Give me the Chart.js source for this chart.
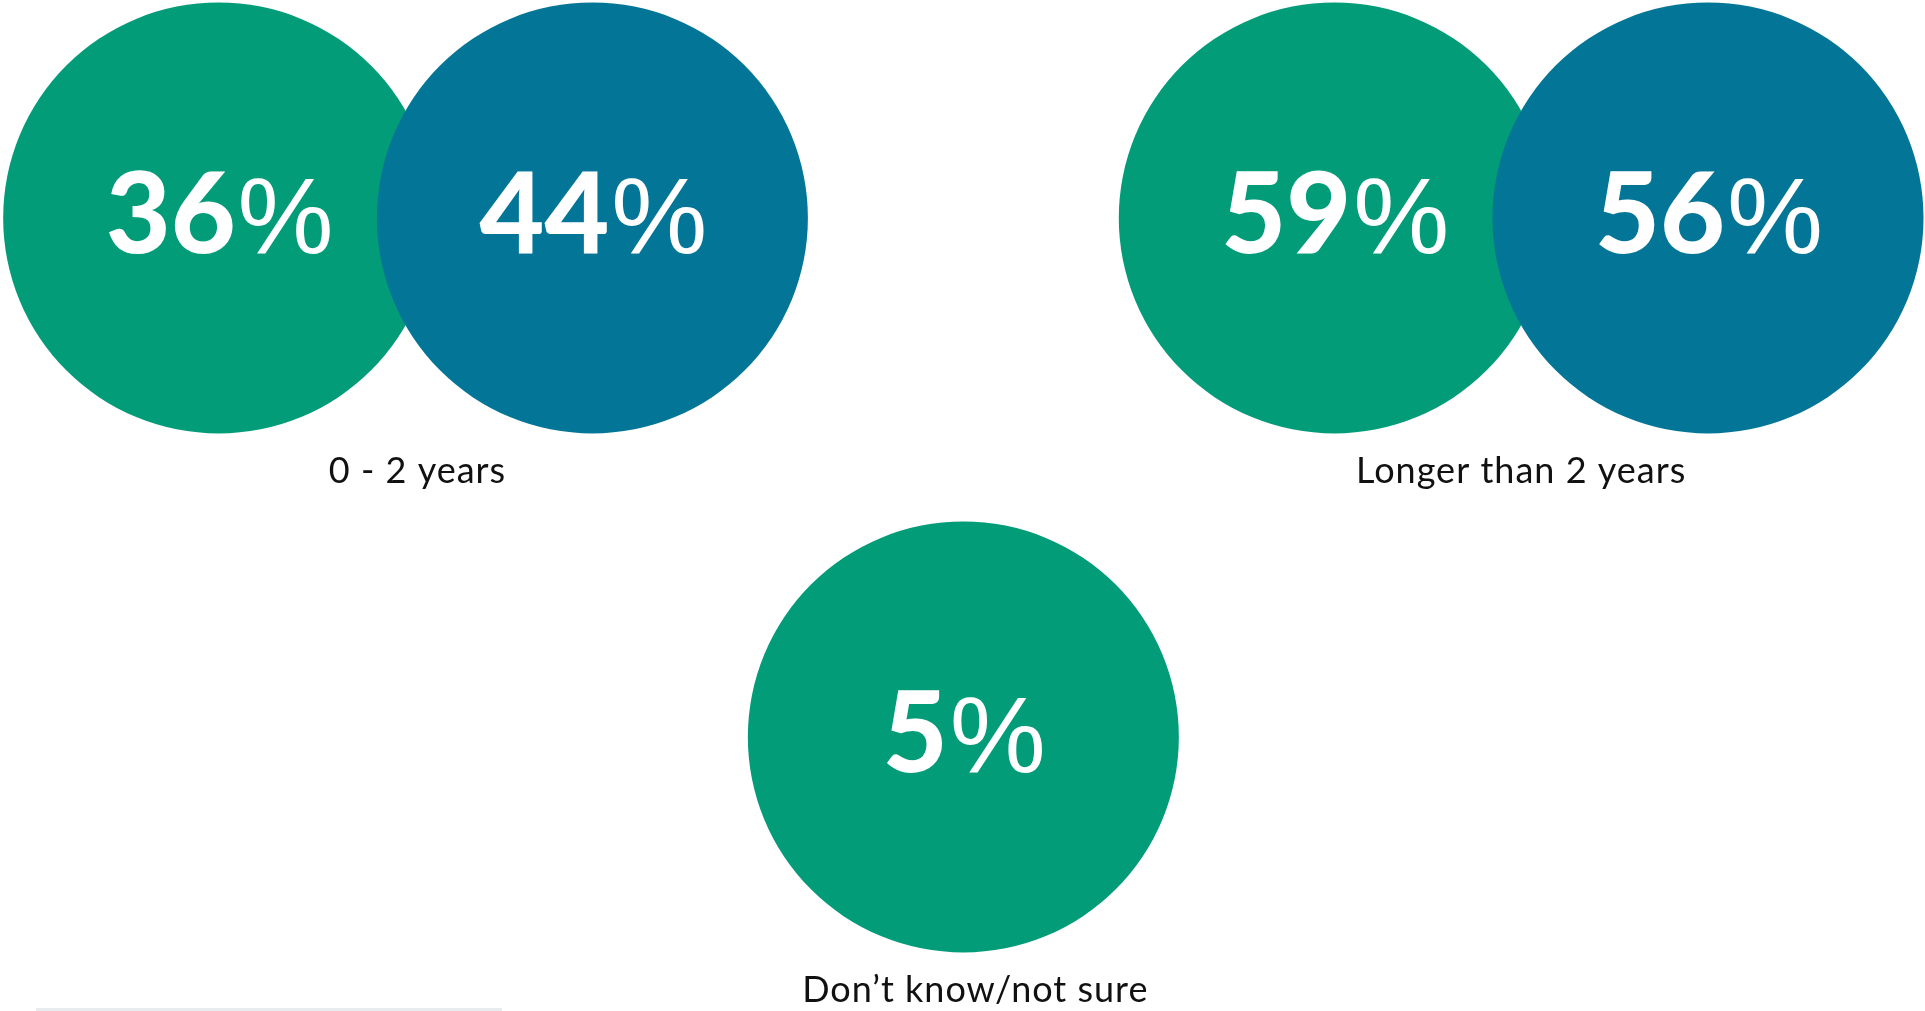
<!DOCTYPE html>
<html>
<head>
<meta charset="utf-8">
<title>Time frame</title>
<script src="https://cdn.jsdelivr.net/npm/chart.js@4.4.0/dist/chart.umd.min.js"></script>
<style>
  html, body { margin: 0; padding: 0; background: #fff; overflow: hidden; }
  #wrap { position: relative; width: 1925px; height: 1011px; }
  #rule { position: absolute; left: 36px; top: 1008px; width: 466px; height: 3px; background: #e9ecef; }
</style>
</head>
<body>
<div id="wrap">
  <canvas id="timeFrame" width="1925" height="1011"></canvas>
  <div id="rule"></div>
</div>
<script>
const categories = ["0 - 2 years", "Longer than 2 years", "Don’t know/not sure"];
const greenValues = [36, 59, 5];
const blueValues = [44, 56, null];

// where each group sits: column and row on the hidden scales
const groupCol = [0, 2, 1];
const groupRow = [0, 0, 1];
const pairOffset = 0.335;
const bubbleRadius = 215.5;
const labelNudge = [12, 0, 12];

const GREEN = "#029c79";
const BLUE = "#037597";

const toPoints = (values, offset) =>
  values
    .map((v, i) =>
      v === null ? null : { x: groupCol[i] + offset, y: groupRow[i], r: bubbleRadius, v }
    )
    .filter((p) => p !== null);

// green is centred when a group has no blue bubble
const greenPoints = toPoints(greenValues, 0).map((p, i) => ({
  ...p,
  x: blueValues[i] === null ? p.x : p.x - pairOffset,
}));
const bluePoints = toPoints(blueValues, pairOffset);

const NUM_FONT = "900 112px Lato";
const PCT_FONT = "400 108px 'Liberation Sans'";

const valueLabels = {
  id: "valueLabels",
  afterDatasetsDraw(chart) {
    const { ctx } = chart;
    ctx.save();
    ctx.fillStyle = "#fff";
    ctx.textBaseline = "alphabetic";
    chart.data.datasets.forEach((ds, di) => {
      chart.getDatasetMeta(di).data.forEach((el, i) => {
        const num = String(ds.data[i].v);
        ctx.font = NUM_FONT;
        const wNum = ctx.measureText(num).width;
        ctx.font = PCT_FONT;
        const wPct = ctx.measureText("%").width;
        const left = el.x - (wNum + wPct) / 2;
        const base = el.y + 35;
        ctx.font = NUM_FONT;
        ctx.fillText(num, left, base);
        ctx.font = PCT_FONT;
        ctx.fillText("%", left + wNum + 2, base);
      });
    });
    ctx.restore();
  },
};

const groupLabels = {
  id: "groupLabels",
  afterDraw(chart) {
    const { ctx, scales } = chart;
    ctx.save();
    ctx.fillStyle = "#111";
    ctx.font = "400 36px Lato";
    ctx.letterSpacing = "1px";
    ctx.textAlign = "center";
    ctx.textBaseline = "alphabetic";
    categories.forEach((label, i) => {
      const x = scales.x.getPixelForValue(groupCol[i]) + labelNudge[i];
      const y = scales.y.getPixelForValue(groupRow[i]) + bubbleRadius + 50;
      ctx.fillText(label, x, y);
    });
    ctx.restore();
  },
};

new Chart(document.getElementById("timeFrame"), {
  type: "bubble",
  data: {
    datasets: [
      { label: "Green", data: greenPoints, backgroundColor: GREEN, order: 1 },
      { label: "Blue", data: bluePoints, backgroundColor: BLUE, order: 0 },
    ],
  },
  options: {
    responsive: false,
    animation: false,
    events: [],
    clip: false,
    layout: { padding: 0, autoPadding: false },
    elements: { point: { borderWidth: 0, hoverRadius: 0, hoverBorderWidth: 0 } },
    plugins: { legend: { display: false }, tooltip: { enabled: false } },
    scales: {
      x: { type: "linear", display: false, min: -0.727, max: 2.724 },
      y: { type: "linear", display: false, reverse: true, min: -0.42, max: 1.528 },
    },
  },
  plugins: [valueLabels, groupLabels],
});
</script>
</body>
</html>
